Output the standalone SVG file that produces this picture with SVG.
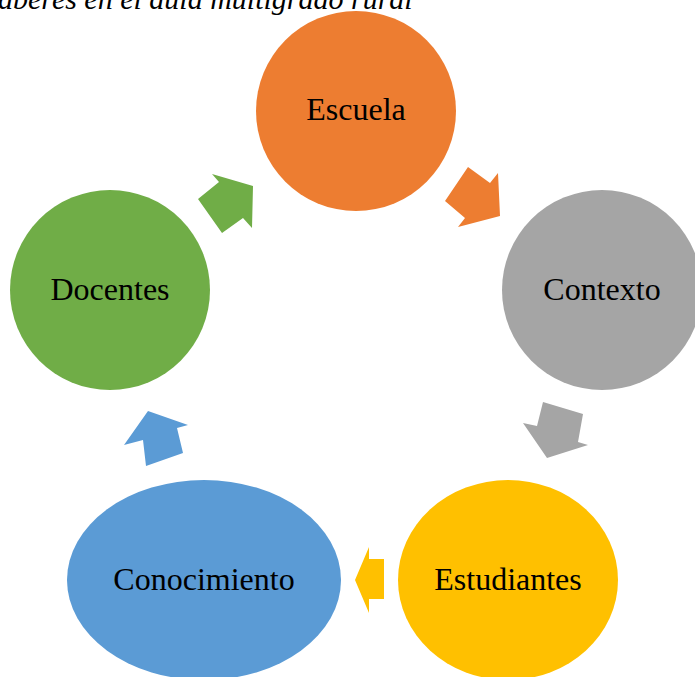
<svg xmlns="http://www.w3.org/2000/svg" width="695" height="677" viewBox="0 0 695 677">
  <style>
    .lbl { font-family: "Liberation Serif", "Times New Roman", serif; font-size: 32px; fill: #000; text-anchor: middle; }
    .title { font-family: "Liberation Serif", "Times New Roman", serif; font-size: 30px; font-style: italic; fill: #000; }
  </style>
  <rect width="695" height="677" fill="#fff"/>
  <!-- caption line, partly above the top edge -->
  <text class="title" x="-2" y="9">aberes en el aula multigrado rural</text>

  <!-- block arrows running clockwise between the nodes -->
  <g id="connectors">
    <polygon fill="#ED7D31" points="445,201 468,167 490,183 498,173 500,216 458,227 465,218"/>
    <polygon fill="#A5A5A5" points="543,402 583,414 578,442 588,445 547,458 523,423 537,426"/>
    <polygon fill="#FFC000" points="355,580 369,547 369,559 384,559 384,599 369,599 369,613"/>
    <polygon fill="#5B9BD5" points="124,445 148,411 188,425 177,428 183,453 146,466 143,440"/>
    <polygon fill="#70AD47" points="198,199 219,182 212,174 253,186 252,228 243,218 222,233"/>
  </g>

  <g id="escuela">
    <circle cx="356" cy="111" r="100" fill="#ED7D31"/>
    <text class="lbl" x="356" y="120">Escuela</text>
  </g>
  <g id="contexto">
    <circle cx="602" cy="290" r="100" fill="#A5A5A5"/>
    <text class="lbl" x="602" y="300">Contexto</text>
  </g>
  <g id="estudiantes">
    <ellipse cx="508" cy="580" rx="110" ry="100" fill="#FFC000"/>
    <text class="lbl" x="508" y="590">Estudiantes</text>
  </g>
  <g id="conocimiento">
    <ellipse cx="204" cy="580" rx="137" ry="100" fill="#5B9BD5"/>
    <text class="lbl" x="204" y="590">Conocimiento</text>
  </g>
  <g id="docentes">
    <circle cx="110" cy="290" r="100" fill="#70AD47"/>
    <text class="lbl" x="110" y="300">Docentes</text>
  </g>
</svg>
